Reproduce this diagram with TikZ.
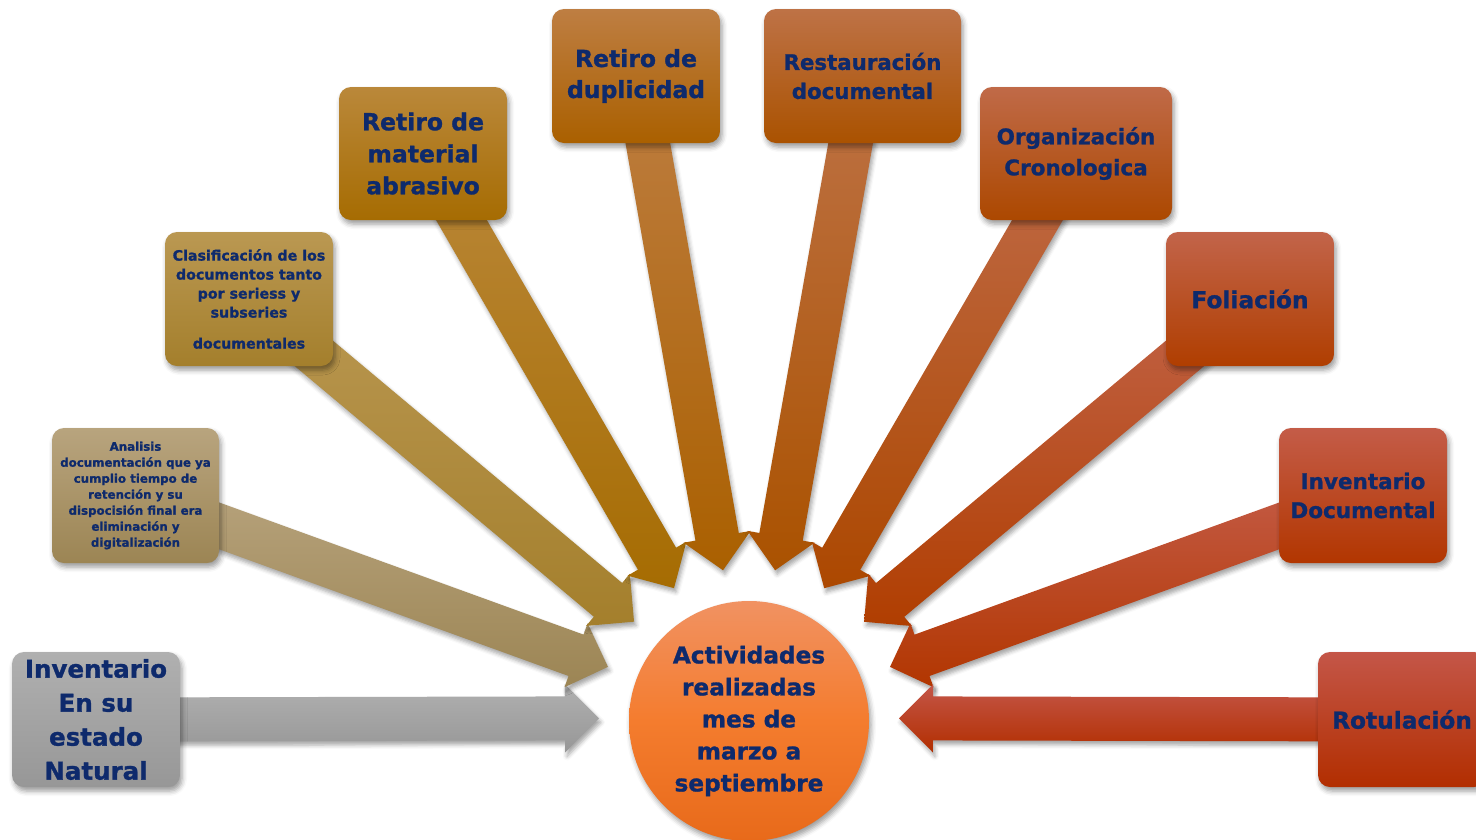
\documentclass[tikz,border=0pt]{standalone}
\usepackage{fontspec}
\setmainfont{DejaVu Sans}[BoldFeatures={FakeBold=1.2}]
\usetikzlibrary{calc,backgrounds,shadows.blur}

\definecolor{navy}{HTML}{0E2A6C}
\definecolor{gA}{HTML}{B0B0B0}\definecolor{gB}{HTML}{979797}
\definecolor{tA}{HTML}{B8A47E}\definecolor{tB}{HTML}{9C8554}
\definecolor{kA}{HTML}{BA9852}\definecolor{kB}{HTML}{A47F2C}
\definecolor{mA}{HTML}{BA883A}\definecolor{mB}{HTML}{A66C02}
\definecolor{dA}{HTML}{BE7E42}\definecolor{dB}{HTML}{AA6000}
\definecolor{rA}{HTML}{BE7246}\definecolor{rB}{HTML}{AA5200}
\definecolor{oA}{HTML}{C06A48}\definecolor{oB}{HTML}{AC4800}
\definecolor{fA}{HTML}{C2644A}\definecolor{fB}{HTML}{B03E00}
\definecolor{iA}{HTML}{C45C48}\definecolor{iB}{HTML}{B23600}
\definecolor{uA}{HTML}{C45648}\definecolor{uB}{HTML}{B22E00}
\definecolor{cA}{HTML}{F19262}\definecolor{cM}{HTML}{F47C2E}\definecolor{cB}{HTML}{E86A1A}

\tikzset{
  box/.style={rounded corners=12pt, minimum width=168pt, minimum height=134pt,
    align=center, text=navy, inner sep=2pt,
    blur shadow={shadow xshift=2pt, shadow yshift=-4pt, shadow blur radius=5pt, shadow opacity=40}},
  arrowshade/.style={blur shadow={shadow xshift=2pt, shadow yshift=-4pt, shadow blur radius=4pt, shadow opacity=35}},
}

% #1 box node, #2 tip coordinate, #3 top colour, #4 bottom colour
\newcommand{\blkarrow}[4]{%
  \path[arrowshade, top color=#3, bottom color=#4]
    (#2)
    -- ($(#2)!34pt!(#1.center)!34pt!90:(#1.center)$)
    -- ($(#2)!34pt!(#1.center)!22pt!90:(#1.center)$)
    -- ($(#1.center)!22pt!-90:(#2)$)
    -- ($(#1.center)!22pt!90:(#2)$)
    -- ($(#2)!34pt!(#1.center)!22pt!-90:(#1.center)$)
    -- ($(#2)!34pt!(#1.center)!34pt!-90:(#1.center)$)
    -- cycle;
}

\begin{document}
\begin{tikzpicture}[x=1pt,y=-1pt]
\useasboundingbox (0,0) rectangle (1476,839);

\node[box, top color=gA, bottom color=gB, minimum height=135pt,
  font=\fontsize{24.5}{34}\selectfont\bfseries] (b1) at (96,719.5)
  {Inventario\\En su\\estado\\Natural};
\node[box, top color=tA, bottom color=tB, minimum width=167pt, minimum height=135pt,
  font=\fontsize{11.8}{16}\selectfont\bfseries] (b2) at (135.5,495.5)
  {Analisis\\documentación que ya\\cumplio tiempo de\\retención y su\\dispocisión final era\\eliminación y\\digitalización};
\node[box, top color=kA, bottom color=kB,
  font=\fontsize{14.2}{19}\selectfont\bfseries] (b3) at (249,299)
  {Clasificación de los\\documentos tanto\\por seriess y\\subseries\\[12pt]documentales};
\node[box, top color=mA, bottom color=mB, minimum height=133pt,
  font=\fontsize{23.5}{32}\selectfont\bfseries] (b4) at (423,153.5)
  {Retiro de\\material\\abrasivo};
\node[box, top color=dA, bottom color=dB,
  font=\fontsize{23.5}{31}\selectfont\bfseries] (b5) at (636,76)
  {Retiro de\\duplicidad};
\node[box, top color=rA, bottom color=rB, minimum width=197pt,
  font=\fontsize{21.3}{29}\selectfont\bfseries] (b6) at (862.5,76)
  {Restauración\\documental};
\node[box, top color=oA, bottom color=oB, minimum width=192pt, minimum height=133pt,
  font=\fontsize{21.5}{31}\selectfont\bfseries] (b7) at (1076,153.5)
  {Organización\\Cronologica};
\node[box, top color=fA, bottom color=fB,
  font=\fontsize{23.3}{31}\selectfont\bfseries] (b8) at (1250,299)
  {Foliación};
\node[box, top color=iA, bottom color=iB, minimum height=135pt,
  font=\fontsize{21.5}{29}\selectfont\bfseries] (b9) at (1363,495.5)
  {Inventario\\Documental};
\node[box, top color=uA, bottom color=uB, minimum height=135pt,
  font=\fontsize{23.3}{31}\selectfont\bfseries] (b10) at (1402,719.5)
  {Rotulación};

\node[circle, minimum size=240pt, inner sep=0pt, align=center, text=navy,
  top color=cA, bottom color=cB, middle color=cM,
  blur shadow={shadow xshift=2pt, shadow yshift=-4pt, shadow blur radius=5pt, shadow opacity=40},
  font=\fontsize{23.2}{32}\selectfont\bfseries] (c) at (749,721)
  {Actividades\\realizadas\\mes de\\marzo a\\septiembre};

\foreach \i in {1,...,10} {
  \coordinate (t\i) at ($(749,718)!150pt!(b\i.center)$);
}

\begin{pgfonlayer}{background}
  \blkarrow{b1}{t1}{gA}{gB}
  \blkarrow{b2}{t2}{tA}{tB}
  \blkarrow{b3}{t3}{kA}{kB}
  \blkarrow{b4}{t4}{mA}{mB}
  \blkarrow{b5}{t5}{dA}{dB}
  \blkarrow{b6}{t6}{rA}{rB}
  \blkarrow{b7}{t7}{oA}{oB}
  \blkarrow{b8}{t8}{fA}{fB}
  \blkarrow{b9}{t9}{iA}{iB}
  \blkarrow{b10}{t10}{uA}{uB}
\end{pgfonlayer}
\end{tikzpicture}
\end{document}
